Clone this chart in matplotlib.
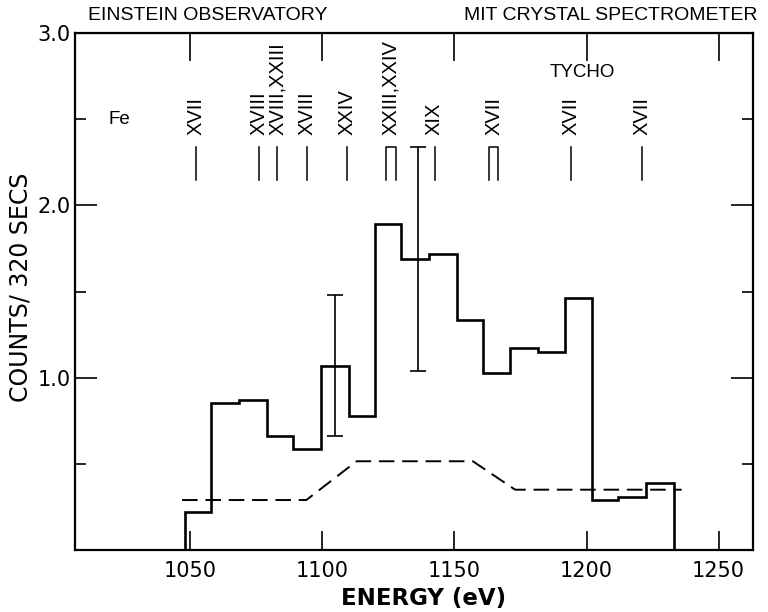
import matplotlib.pyplot as plt

# spectrum (histogram)
bin_edges = [1048, 1058, 1068.5, 1079, 1089, 1099.5, 1110, 1120, 1130,
             1140.5, 1151, 1161, 1171, 1181.5, 1192, 1202, 1212, 1222.5, 1233]
counts = [0.22, 0.855, 0.87, 0.66, 0.585, 1.07, 0.78, 1.89, 1.69,
          1.715, 1.335, 1.03, 1.175, 1.15, 1.465, 0.29, 0.31, 0.39]

# error bars
err_x = [1105, 1136.4]
err_y = [1.07, 1.69]
err_size = [0.41, 0.65]

# dashed background level
bg_x = [1047, 1094, 1113, 1157, 1173, 1236]
bg_y = [0.29, 0.29, 0.515, 0.515, 0.35, 0.35]

# Fe line identifications
line_x = [1052.3, 1076, 1083, 1094.3, 1109.4, 1126, 1142.5, 1165, 1194, 1221]
line_lbl = ["XVII", "XVIII", "XVIII,XXIII", "XVIII", "XXIV", "XXIII,XXIV",
            "XIX", "XVII", "XVII", "XVII"]
# lines drawn as a pair (Π shape): index -> half width in eV
pair_half = {5: 1.9, 7: 1.7}

xticks = [1050, 1100, 1150, 1200, 1250]
yticks = [1, 2, 3]
ytick_lbl = ["1.0", "2.0", "3.0"]
yminor = [0.5, 1.5, 2.5]

fig = plt.figure(figsize=(7.68, 6.12), dpi=100)
ax = fig.add_axes([0.0977, 0.1013, 0.8828, 0.8447])

ax.stairs(counts, bin_edges, baseline=0, color="black", lw=1.9)
ax.errorbar(err_x, err_y, yerr=err_size, fmt="none", ecolor="black",
            elinewidth=1.2, capsize=6, capthick=1.2)
ax.plot(bg_x, bg_y, color="black", lw=1.4, ls=(0, (8, 4)))

lo, hi = 2.15, 2.34
for i, (x, lbl) in enumerate(zip(line_x, line_lbl)):
    if i in pair_half:
        h = pair_half[i]
        ax.plot([x - h, x - h, x + h, x + h], [lo, hi, hi, lo], color="black", lw=1.1)
    else:
        ax.plot([x, x], [lo, hi], color="black", lw=1.1)
    ax.text(x, 2.41, lbl, rotation=90, ha="center", va="bottom", fontsize=14.5,
            family="Liberation Sans")

ax.text(1023.3, 2.50, "Fe", ha="center", va="center", fontsize=13.5, family="Liberation Sans")
ax.text(1198.4, 2.77, "TYCHO", ha="center", va="center", fontsize=13.5, family="Liberation Sans")

ax.set_xlim(1006.5, 1263)
ax.set_ylim(0, 3)
ax.set_xticks(xticks)
ax.set_xticklabels([str(t) for t in xticks])
ax.set_yticks(yticks)
ax.set_yticklabels(ytick_lbl)
ax.set_yticks(yminor, minor=True)

ax.tick_params(axis="x", which="major", direction="in", length=14, width=1.2,
               labelsize=15, pad=8)
ax.tick_params(axis="y", which="major", direction="in", length=16, width=1.2,
               labelsize=15, pad=3, right=True)
ax.tick_params(axis="y", which="minor", direction="in", length=8, width=1.2, right=True)
for s in ax.spines.values():
    s.set_linewidth(1.6)

top = ax.secondary_xaxis("top")
top.set_xticks(xticks)
top.tick_params(direction="in", length=20, width=1.2, labeltop=False)

fig.text(0.1146, 0.975, "EINSTEIN OBSERVATORY", ha="left", va="center",
         fontsize=14, family="Liberation Sans")
fig.text(0.986, 0.975, "MIT CRYSTAL SPECTROMETER", ha="right", va="center",
         fontsize=14, family="Liberation Sans")
fig.text(0.027, 0.53, "COUNTS/ 320 SECS", rotation=90, ha="center", va="center",
         fontsize=17)
fig.text(0.552, 0.022, "ENERGY (eV)", ha="center", va="center", fontsize=16.5,
         weight="bold")

fig.savefig("out.png", dpi=100)
